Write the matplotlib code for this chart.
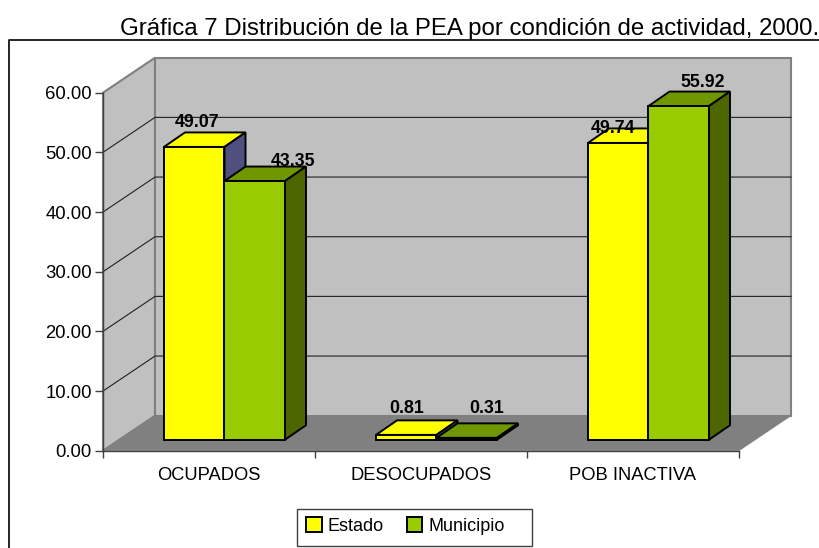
import matplotlib
matplotlib.use("Agg")
import matplotlib.pyplot as plt
from matplotlib.lines import Line2D
from matplotlib.patches import Patch, Rectangle

plt.rcParams["font.family"] = ["Liberation Sans", "DejaVu Sans"]

# datos
categories = ["OCUPADOS", "DESOCUPADOS", "POB INACTIVA"]
estado = [49.07, 0.81, 49.74]
municipio = [43.35, 0.31, 55.92]
y_ticks = [0, 10, 20, 30, 40, 50, 60]
title = "Gráfica 7 Distribución de la PEA por condición de actividad, 2000."

# desplazamiento de las etiquetas en pixeles (como en el original)
estado_label_off = [(-8, 10), (-10, 12), (-16, 0)]
municipio_label_off = [(28, 5), (9, 15), (13, 9)]

# perspectiva en unidades de datos
DEPTH_X = 52 / 212
DEPTH_Y = 35 / 5.97
BAR_X = 61 / 212
BAR_W = 60.5 / 212
BAR_BASE = 11 / 5.97
BAR_DX = 21 / 212
BAR_DY = 14.5 / 5.97

YELLOW = ("#FFFF00", "#FFFF00", "#4F4F80")
GREEN = ("#99CC00", "#6F9800", "#4D6600")

fig = plt.figure(figsize=(8.2, 5.48), dpi=100)
ax = fig.add_axes([103 / 820, (548 - 450.7) / 548, 636 / 820, 358 / 548])
ax.set_xlim(0, 3)
ax.set_ylim(0, 60)
ax.patch.set_visible(False)


def poly(xs, ys, color, edge, lw, z):
    ax.fill(xs, ys, facecolor=color, edgecolor=edge, linewidth=lw, zorder=z,
            clip_on=False, joinstyle="miter")


# paredes y piso
poly([0, DEPTH_X, DEPTH_X, 0], [0, DEPTH_Y, 60 + DEPTH_Y, 60], "#C0C0C0", "#808080", 1.5, 1)
poly([DEPTH_X, 3 + DEPTH_X, 3 + DEPTH_X, DEPTH_X], [DEPTH_Y, DEPTH_Y, 60 + DEPTH_Y, 60 + DEPTH_Y],
     "#C0C0C0", "#808080", 1.5, 1)
poly([0, 3, 3 + DEPTH_X, DEPTH_X], [0, 0, DEPTH_Y, DEPTH_Y], "#808080", "#808080", 0.5, 2)

# lineas de la rejilla
for v in y_ticks[1:-1]:
    ax.plot([0, DEPTH_X, 3 + DEPTH_X], [v, v + DEPTH_Y, v + DEPTH_Y], color="#202020", lw=0.8,
            zorder=3, clip_on=False)


def bar3d(x0, v, colors):
    y0 = BAR_BASE
    y1 = BAR_BASE + v
    x1 = x0 + BAR_W
    poly([x0, x1, x1 + BAR_DX, x0 + BAR_DX], [y1, y1, y1 + BAR_DY, y1 + BAR_DY], colors[1], "black", 1.4, 5)
    poly([x1, x1 + BAR_DX, x1 + BAR_DX, x1], [y0, y0 + BAR_DY, y1 + BAR_DY, y1], colors[2], "black", 1.4, 5)
    poly([x0, x1, x1, x0], [y0, y0, y1, y1], colors[0], "black", 1.4, 5)


for i in range(len(categories)):
    bar3d(i + BAR_X, estado[i], YELLOW)
    bar3d(i + BAR_X + BAR_W, municipio[i], GREEN)

    for x0, v, off in [(i + BAR_X, estado[i], estado_label_off[i]),
                       (i + BAR_X + BAR_W, municipio[i], municipio_label_off[i])]:
        ax.annotate(f"{v:.2f}", (x0 + BAR_W / 2 + BAR_DX / 2, BAR_BASE + v + BAR_DY),
                    xytext=off, textcoords="offset pixels", ha="center", va="center",
                    fontsize=12.8, fontweight="bold", zorder=8, annotation_clip=False)

# ejes
for s in ["top", "right"]:
    ax.spines[s].set_visible(False)
for s in ["left", "bottom"]:
    ax.spines[s].set_color("#404040")
    ax.spines[s].set_linewidth(1.0)
    ax.spines[s].set_zorder(4)
ax.set_yticks(y_ticks)
ax.set_yticklabels([f"{v:.2f}" for v in y_ticks])
ax.set_xticks([0, 1, 2, 3])
ax.set_xticklabels([])
ax.set_xticks([0.5, 1.5, 2.5], minor=True)
ax.set_xticklabels(categories, minor=True)
ax.tick_params(axis="y", labelsize=13.3, length=6, width=1, color="#404040", pad=2)
ax.tick_params(axis="x", which="major", length=5, width=1, color="#404040")
ax.tick_params(axis="x", which="minor", length=0, labelsize=13.2, pad=12)

# marco exterior y titulo
fig.add_artist(Line2D([8.5 / 820, 8.5 / 820, 1], [0, 1 - 40 / 548, 1 - 40 / 548], color="black", lw=1.2))
fig.text(819.5 / 820, 1 - 28.5 / 548, title, ha="right", va="center", fontsize=17.3)

# leyenda: marco aparte porque el original deja mas aire a la derecha
fig.add_artist(Rectangle((297.5 / 820, 1 - 546 / 548), 234 / 820, 37.5 / 548, transform=fig.transFigure,
                         facecolor="white", edgecolor="#404040", linewidth=1.0))
leg = fig.legend(handles=[Patch(facecolor="#FFFF00", edgecolor="black", linewidth=1.4, label="Estado"),
                          Patch(facecolor="#99CC00", edgecolor="black", linewidth=1.4, label="Municipio")],
                 loc="center", bbox_to_anchor=(405.5 / 820, 1 - 526 / 548), ncol=2, fontsize=13,
                 frameon=False, handlelength=0.85, handleheight=0.85,
                 handletextpad=0.33, columnspacing=1.3)

fig.savefig("out.png", dpi=100)
